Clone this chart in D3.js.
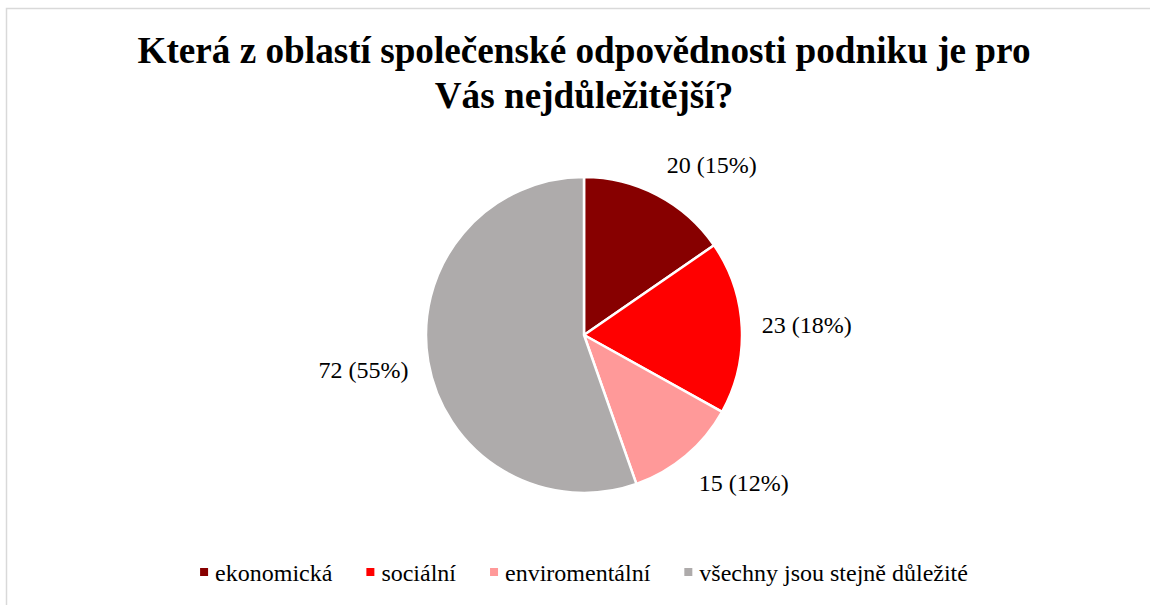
<!DOCTYPE html>
<html>
<head>
<meta charset="utf-8">
<script src="https://cdn.jsdelivr.net/npm/d3@7"></script>
<style>
  html, body { margin: 0; padding: 0; background: #fff; }
  svg { display: block; }
</style>
</head>
<body>
<svg id="chart" width="1150" height="605"></svg>
<script>
const titleLines = ["Která z oblastí společenské odpovědnosti podniku je pro", "Vás nejdůležitější?"];
const categories = ["ekonomická", "sociální", "enviromentální", "všechny jsou stejně důležité"];
const values = [20, 23, 15, 72];
const colors = ["#870000", "#FF0000", "#FF9999", "#AEABAB"];

const W = 1150, H = 605;
const svg = d3.select("#chart");
const serif = "'Liberation Serif', 'Times New Roman', serif";

// chart border
svg.append("rect")
  .attr("x", 6.5).attr("y", 8.5)
  .attr("width", W + 10).attr("height", H + 10)
  .attr("fill", "#fff").attr("stroke", "#D9D9D9").attr("stroke-width", 1.5);

const cx = 584, cy = 335, r = 158;

// title
const title = svg.append("text")
  .attr("text-anchor", "middle")
  .attr("font-family", serif)
  .attr("font-weight", "bold")
  .attr("font-size", 37.2)
  .attr("fill", "#000");
titleLines.forEach((t, i) => {
  title.append("tspan").attr("x", cx).attr("y", 63 + i * 45).text(t);
});

const total = d3.sum(values);
const pie = d3.pie().sort(null).value(d => d);
const arcs = pie(values);
const arc = d3.arc().innerRadius(0).outerRadius(r);

const g = svg.append("g").attr("transform", `translate(${cx},${cy})`);
g.selectAll("path.slice")
  .data(arcs)
  .join("path")
  .attr("class", "slice")
  .attr("d", arc)
  .attr("fill", (d, i) => colors[i])
  .attr("stroke", "#fff")
  .attr("stroke-width", 2.5)
  .attr("stroke-linejoin", "round");

// labels (outside end)
const clamp = v => Math.max(-1, Math.min(1, v));
const lr = r + 20;
arcs.forEach((d, i) => {
  const a = (d.startAngle + d.endAngle) / 2;
  const ax = Math.sin(a) * lr, ay = -Math.cos(a) * lr;
  const pct = Math.round(d.value / total * 100);
  const t = g.append("text")
    .attr("font-family", serif)
    .attr("font-size", 24)
    .attr("fill", "#000")
    .attr("text-anchor", "middle")
    .attr("dominant-baseline", "central")
    .text(`${d.value} (${pct}%)`);
  const w = t.node().getComputedTextLength();
  const h = 24;
  const dx = (w / 2) * clamp(Math.sin(a) * 2.5);
  const dy = -(h / 2) * clamp(Math.cos(a) * 2.5);
  t.attr("x", ax + dx).attr("y", ay + dy);
});

// legend
const legend = svg.append("g");
const sq = 8, gapText = 7, gapItem = 34;
let x = 0;
categories.forEach((c, i) => {
  const it = legend.append("g");
  it.append("rect").attr("x", 0).attr("y", -sq / 2 - 1).attr("width", sq).attr("height", sq).attr("fill", colors[i]);
  const t = it.append("text")
    .attr("x", sq + gapText).attr("y", 0)
    .attr("dominant-baseline", "central")
    .attr("font-family", serif).attr("font-size", 24).attr("fill", "#000")
    .text(c);
  const w = sq + gapText + t.node().getComputedTextLength();
  it.attr("transform", `translate(${x},0)`);
  x += w + gapItem;
});
const lw = x - gapItem;
legend.attr("transform", `translate(${cx - lw / 2},${573})`);
</script>
</body>
</html>
